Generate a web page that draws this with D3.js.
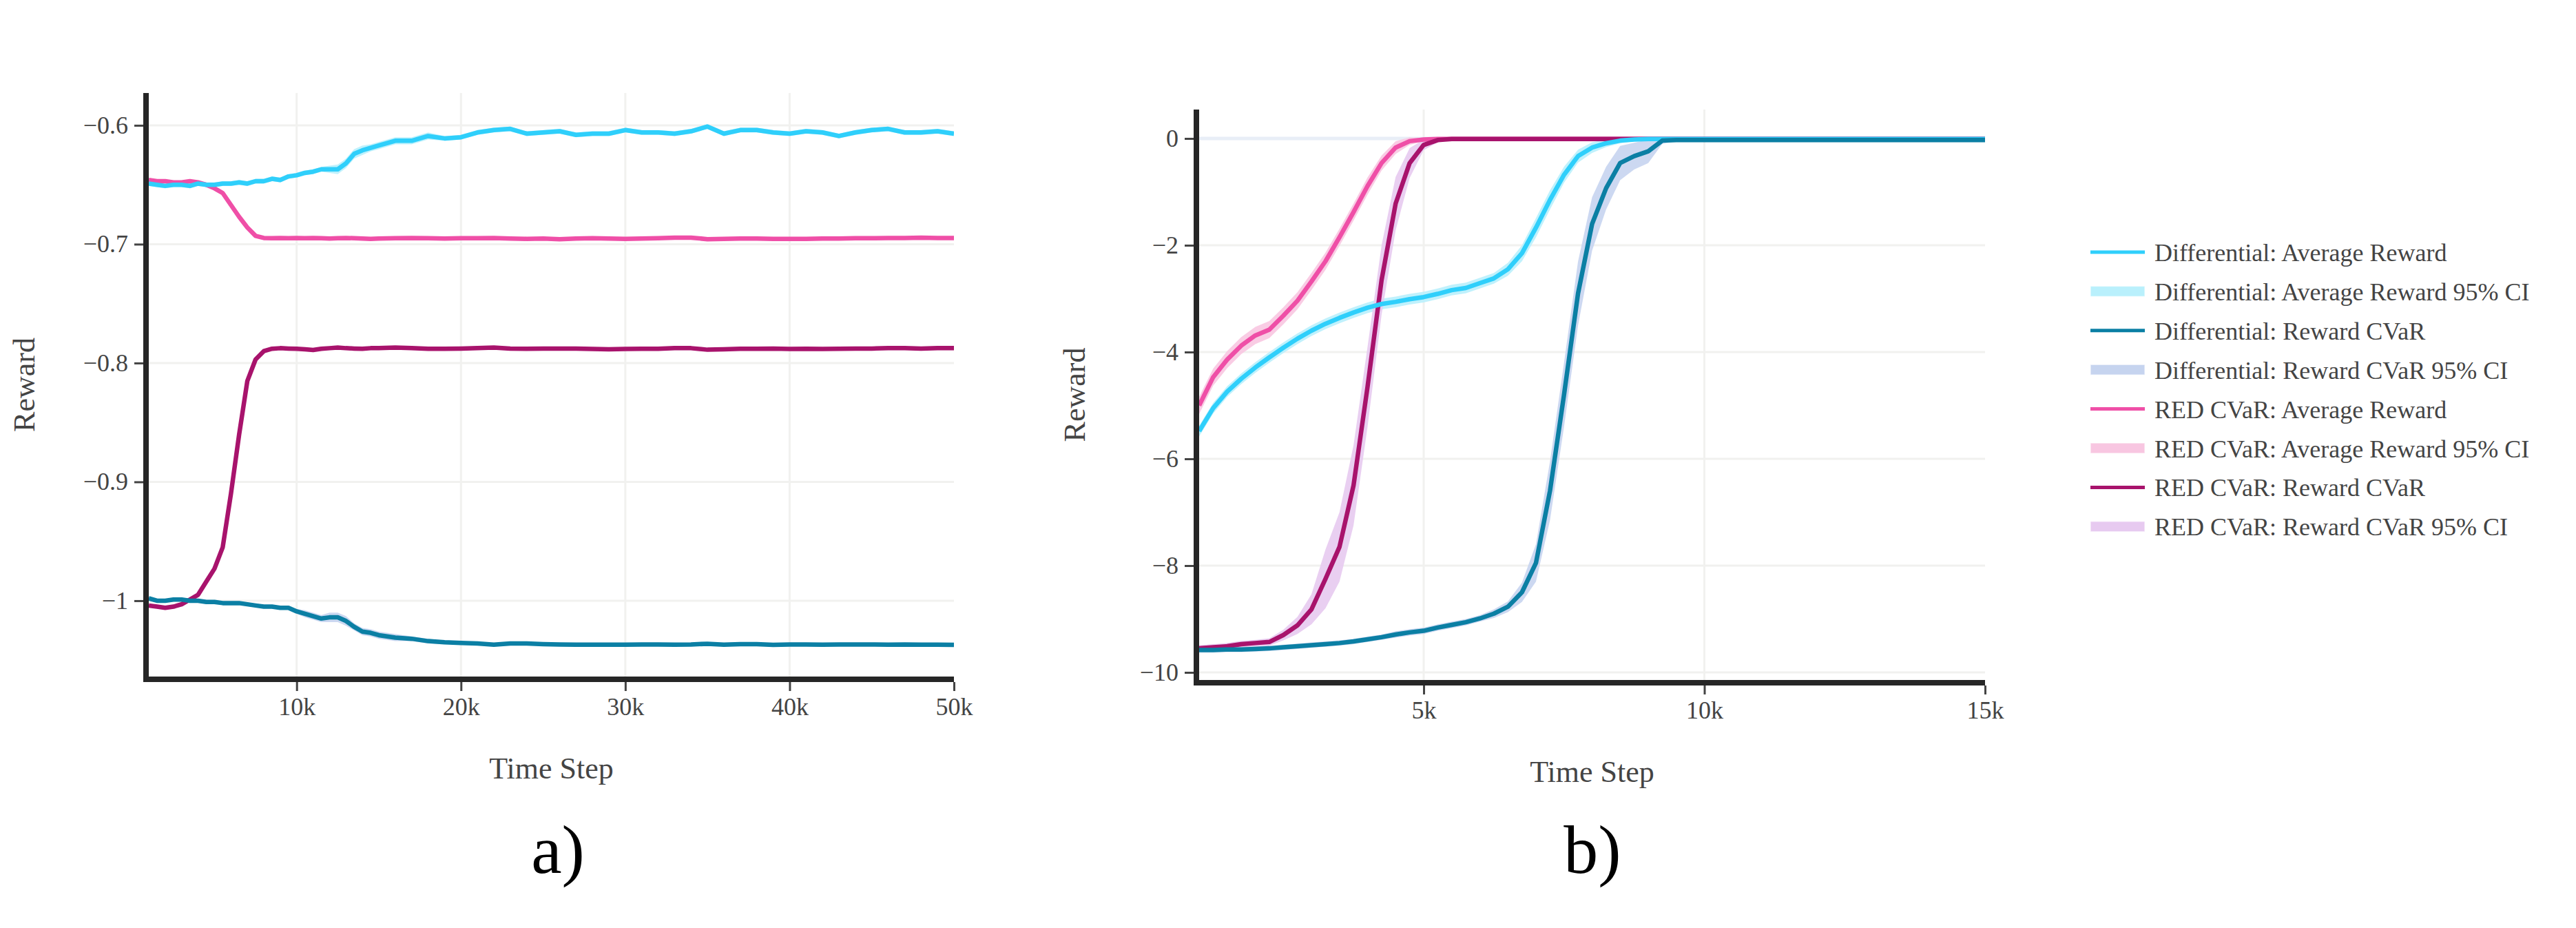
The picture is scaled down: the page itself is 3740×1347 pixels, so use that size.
<!DOCTYPE html>
<html>
<head>
<meta charset="utf-8">
<script src="https://cdn.jsdelivr.net/npm/d3@7"></script>
<style>
body { margin: 0; background: #fff; }
svg { display: block; }
</style>
</head>
<body>
<div id="chart"></div>
<script>

// ---- data ----
var legendLabels = [
  "Differential: Average Reward", "Differential: Average Reward 95% CI",
  "Differential: Reward CVaR", "Differential: Reward CVaR 95% CI",
  "RED CVaR: Average Reward", "RED CVaR: Average Reward 95% CI",
  "RED CVaR: Reward CVaR", "RED CVaR: Reward CVaR 95% CI"
];
var lineColors = ["#2fcffb", "#0b7fa4", "#ef4fa7", "#a8136c"];
var ciColors = ["#b9f0fc", "#c6d4ef", "#f8c6e1", "#e7caf0"];

// panel a) time steps
var xA = [1000,1500,2000,2500,3000,3500,4000,4500,5000,5500,6000,6500,7000,7500,8000,8500,9000,9500,10000,
  10500,11000,11500,12000,12500,13000,13500,14000,14500,15000,
  16000,17000,18000,19000,20000,21000,22000,23000,24000,25000,26000,27000,28000,29000,30000,
  31000,32000,33000,34000,35000,36000,37000,38000,39000,40000,41000,42000,43000,44000,45000,
  46000,47000,48000,49000,50000];

var diffAvgA = [-0.649,-0.650,-0.651,-0.650,-0.650,-0.651,-0.649,-0.650,-0.650,-0.649,
  -0.649,-0.648,-0.649,-0.647,-0.647,-0.645,-0.646,-0.643,-0.642,-0.640,
  -0.639,-0.637,-0.637,-0.637,-0.632,-0.624,-0.621,-0.619,-0.617,
  -0.613,-0.613,-0.609,-0.611,-0.610,-0.606,-0.604,-0.603,-0.607,-0.606,
  -0.605,-0.608,-0.607,-0.607,-0.604,-0.606,-0.606,-0.607,-0.605,-0.601,
  -0.607,-0.604,-0.604,-0.606,-0.607,-0.605,-0.606,-0.609,-0.606,-0.604,
  -0.603,-0.606,-0.606,-0.605,-0.607];
var diffAvgCiA = [0.002,0.002,0.002,0.002,0.002,0.002,0.002,0.002,0.002,0.002,
  0.002,0.002,0.002,0.002,0.002,0.002,0.002,0.002,0.002,0.002,
  0.002,0.002,0.003,0.004,0.004,0.004,0.004,0.003,0.003,
  0.003,0.003,0.003,0.002,0.002,0.002,0.002,0.002,0.002,0.002,
  0.002,0.002,0.002,0.002,0.002,0.002,0.002,0.002,0.002,0.002,
  0.002,0.002,0.002,0.002,0.002,0.002,0.002,0.002,0.002,0.002,
  0.002,0.002,0.002,0.002,0.002];

var diffCvarA = [-0.998,-1.000,-1.000,-0.999,-0.999,-1.000,-1.000,-1.001,-1.001,-1.002,
  -1.002,-1.002,-1.003,-1.004,-1.005,-1.005,-1.006,-1.006,-1.009,-1.011,
  -1.013,-1.015,-1.014,-1.014,-1.017,-1.022,-1.026,-1.027,-1.029,
  -1.031,-1.032,-1.034,-1.035,-1.0355,-1.036,-1.037,-1.036,-1.036,-1.0365,
  -1.0368,-1.037,-1.037,-1.037,-1.037,-1.0368,-1.0368,-1.037,-1.0368,-1.0362,
  -1.037,-1.0365,-1.0365,-1.0372,-1.0368,-1.0368,-1.037,-1.0368,-1.0368,-1.0368,
  -1.037,-1.0368,-1.037,-1.037,-1.0372];
var diffCvarCiA = [0.0015,0.0015,0.0015,0.0015,0.0015,0.0015,0.0015,0.0015,0.0015,0.0015,
  0.0015,0.0015,0.0015,0.0015,0.0015,0.0015,0.0015,0.0015,0.002,0.003,
  0.003,0.003,0.004,0.004,0.004,0.003,0.003,0.003,0.003,
  0.003,0.002,0.002,0.0015,0.001,0.001,0.001,0.001,0.001,0.001,
  0.001,0.001,0.001,0.001,0.001,0.001,0.001,0.001,0.001,0.001,
  0.001,0.001,0.001,0.001,0.001,0.001,0.001,0.001,0.001,0.001,
  0.001,0.001,0.001,0.001,0.001];

var redAvgA = [-0.646,-0.647,-0.647,-0.648,-0.648,-0.647,-0.648,-0.650,-0.653,-0.657,
  -0.667,-0.677,-0.686,-0.693,-0.6948,-0.695,-0.6948,-0.695,-0.6948,-0.695,
  -0.6948,-0.695,-0.6952,-0.695,-0.6948,-0.695,-0.6952,-0.6955,-0.6952,
  -0.695,-0.6948,-0.695,-0.6952,-0.695,-0.695,-0.6948,-0.6952,-0.6955,-0.6952,
  -0.6958,-0.6952,-0.695,-0.6952,-0.6955,-0.6952,-0.695,-0.6945,-0.6945,-0.6958,
  -0.6955,-0.6952,-0.6952,-0.6955,-0.6955,-0.6955,-0.6952,-0.6952,-0.695,-0.695,
  -0.6948,-0.6948,-0.6945,-0.6948,-0.6948];
var redAvgCiA = [0.0015,0.0015,0.0015,0.0015,0.0015,0.0015,0.0015,0.0015,0.002,0.002,
  0.002,0.002,0.002,0.0015,0.001,0.001,0.001,0.001,0.001,0.001,
  0.001,0.001,0.001,0.001,0.001,0.001,0.001,0.001,0.001,
  0.001,0.001,0.001,0.001,0.001,0.001,0.001,0.001,0.001,0.001,
  0.001,0.001,0.001,0.001,0.001,0.001,0.001,0.001,0.001,0.001,
  0.001,0.001,0.001,0.001,0.001,0.001,0.001,0.001,0.001,0.001,
  0.001,0.001,0.001,0.001,0.001];

var redCvarA = [-1.004,-1.005,-1.006,-1.005,-1.003,-0.999,-0.995,-0.984,-0.973,-0.955,
  -0.910,-0.860,-0.815,-0.797,-0.790,-0.788,-0.7875,-0.7878,-0.788,-0.7885,
  -0.789,-0.788,-0.7875,-0.787,-0.7875,-0.7878,-0.788,-0.7875,-0.7875,
  -0.787,-0.7875,-0.788,-0.788,-0.7878,-0.7875,-0.787,-0.7878,-0.788,-0.7878,
  -0.7878,-0.7878,-0.7882,-0.7885,-0.7882,-0.788,-0.788,-0.7875,-0.7875,-0.7888,
  -0.7885,-0.788,-0.788,-0.7878,-0.7882,-0.788,-0.7882,-0.788,-0.7878,-0.7878,
  -0.7875,-0.7875,-0.7878,-0.7875,-0.7875];
var redCvarCiA = [0.001,0.001,0.001,0.001,0.001,0.001,0.0015,0.002,0.003,0.003,
  0.003,0.003,0.003,0.002,0.0015,0.001,0.001,0.001,0.001,0.001,
  0.001,0.001,0.001,0.001,0.001,0.001,0.001,0.001,0.001,
  0.001,0.001,0.001,0.001,0.001,0.001,0.001,0.001,0.001,0.001,
  0.001,0.001,0.001,0.001,0.001,0.001,0.001,0.001,0.001,0.001,
  0.001,0.001,0.001,0.001,0.001,0.001,0.001,0.001,0.001,0.001,
  0.001,0.001,0.001,0.001,0.001];

// panel b) time steps
var xB = [1000,1250,1500,1750,2000,2250,2500,2750,3000,3250,3500,3750,4000,4250,4500,4750,
  5000,5250,5500,5750,6000,6250,6500,6750,7000,7250,7500,7750,8000,8250,8500,8750,
  9000,9250,9500,9750,10000,11000,12000,13000,14000,15000];

var diffAvgB = [-5.48,-5.05,-4.74,-4.50,-4.29,-4.10,-3.92,-3.75,-3.60,-3.47,
  -3.36,-3.26,-3.17,-3.10,-3.06,-3.01,-2.97,-2.91,-2.84,-2.80,
  -2.71,-2.62,-2.45,-2.15,-1.67,-1.15,-0.68,-0.33,-0.17,-0.09,
  -0.04,-0.02,-0.01,-0.01,-0.01,-0.01,-0.01,-0.01,-0.01,-0.01,-0.01,-0.01];
var diffAvgCiB = [0.10,0.10,0.10,0.10,0.10,0.10,0.10,0.10,0.10,0.10,
  0.10,0.10,0.10,0.10,0.10,0.10,0.10,0.10,0.10,0.10,
  0.10,0.10,0.12,0.15,0.18,0.18,0.15,0.12,0.10,0.07,
  0.05,0.03,0.02,0.02,0.02,0.02,0.02,0.02,0.02,0.02,0.02,0.02];

var diffCvarB = [-9.58,-9.58,-9.57,-9.57,-9.56,-9.55,-9.53,-9.51,-9.49,-9.47,
  -9.45,-9.42,-9.38,-9.34,-9.29,-9.25,-9.22,-9.16,-9.11,-9.06,
  -8.99,-8.90,-8.77,-8.50,-7.95,-6.60,-4.80,-2.90,-1.60,-0.93,
  -0.46,-0.33,-0.24,-0.04,-0.03,-0.03,-0.03,-0.03,-0.03,-0.03,-0.03,-0.03];
var diffCvarCiB = [0.05,0.05,0.05,0.05,0.05,0.05,0.05,0.05,0.05,0.05,
  0.05,0.05,0.05,0.05,0.06,0.06,0.06,0.06,0.06,0.06,
  0.06,0.08,0.10,0.18,0.35,0.55,0.60,0.60,0.50,0.40,
  0.32,0.25,0.22,0.06,0.02,0.02,0.02,0.02,0.02,0.02,0.02,0.02];

var redAvgB = [-5.00,-4.47,-4.14,-3.88,-3.69,-3.58,-3.32,-3.04,-2.68,-2.30,
  -1.85,-1.38,-0.89,-0.46,-0.17,-0.05,-0.02,-0.01,-0.01,-0.01,
  -0.01,-0.01,-0.01,-0.01,-0.01,-0.01,-0.01,-0.01,-0.01,-0.01,
  -0.01,-0.01,-0.01,-0.01,-0.01,-0.01,-0.01,-0.01,-0.01,-0.01,-0.01,-0.01];
var redAvgCiB = [0.16,0.16,0.16,0.16,0.16,0.16,0.16,0.16,0.16,0.16,
  0.16,0.16,0.16,0.14,0.12,0.07,0.03,0.01,0.01,0.01,
  0.01,0.01,0.01,0.01,0.01,0.01,0.01,0.01,0.01,0.01,
  0.01,0.01,0.01,0.01,0.01,0.01,0.01,0.01,0.01,0.01,0.01,0.01];

var redCvarB = [-9.55,-9.53,-9.51,-9.47,-9.45,-9.43,-9.30,-9.12,-8.82,-8.25,
  -7.65,-6.50,-4.65,-2.65,-1.22,-0.46,-0.12,-0.03,-0.01,-0.01,
  -0.01,-0.01,-0.01,-0.01,-0.01,-0.01,-0.01,-0.01,-0.01,-0.01,
  -0.01,-0.01,-0.01,-0.01,-0.01,-0.01,-0.01,-0.01,-0.01,-0.01,-0.01,-0.01];
var redCvarCiB = [0.06,0.06,0.06,0.06,0.06,0.07,0.10,0.16,0.28,0.55,
  0.65,0.75,0.75,0.65,0.50,0.28,0.10,0.04,0.02,0.02,
  0.01,0.01,0.01,0.01,0.01,0.01,0.01,0.01,0.01,0.01,
  0.01,0.01,0.01,0.01,0.01,0.01,0.01,0.01,0.01,0.01,0.01,0.01];

// tick values
var xTicksA = [10000, 20000, 30000, 40000, 50000];
var yTicksA = [-1, -0.9, -0.8, -0.7, -0.6];
var xTicksB = [5000, 10000, 15000];
var yTicksB = [-10, -8, -6, -4, -2, 0];

// ---- drawing ----
var width = 3740, height = 1347;
var font = "'Liberation Serif', 'Times New Roman', serif";
var textColor = "#444";

var svg = d3.select("#chart").append("svg")
  .attr("width", width)
  .attr("height", height);

svg.append("rect")
  .attr("width", width)
  .attr("height", height)
  .attr("fill", "white");

function drawPanel(p) {
  var x = d3.scaleLinear().domain(p.xDomain).range([p.left, p.right]);
  var y = d3.scaleLinear().domain(p.yDomain).range([p.bottom, p.top]);
  var g = svg.append("g");

  g.append("clipPath").attr("id", p.id + "clip")
    .append("rect")
    .attr("x", p.left).attr("y", p.top)
    .attr("width", p.right - p.left).attr("height", p.bottom - p.top);

  // grid
  g.selectAll(".hgrid")
    .data(p.yTicks.filter(function(d){ return d !== 0; }))
    .enter().append("line")
    .attr("x1", p.left).attr("x2", p.right)
    .attr("y1", function(d){ return y(d); })
    .attr("y2", function(d){ return y(d); })
    .attr("stroke", "#f1f1ef").attr("stroke-width", 3);
  g.selectAll(".vgrid")
    .data(p.xTicks.filter(function(d){ return d < p.xDomain[1]; }))
    .enter().append("line")
    .attr("y1", p.top).attr("y2", p.bottom)
    .attr("x1", function(d){ return x(d); })
    .attr("x2", function(d){ return x(d); })
    .attr("stroke", "#f1f1ef").attr("stroke-width", 3);
  if (p.yTicks.indexOf(0) >= 0) {
    g.append("line")
      .attr("x1", p.left).attr("x2", p.right)
      .attr("y1", y(0)).attr("y2", y(0))
      .attr("stroke", "#e8eef7").attr("stroke-width", 5);
  }

  var plot = g.append("g").attr("clip-path", "url(#" + p.id + "clip)");
  var xs = p.xs;

  // CI bands
  p.series.forEach(function(s, k) {
    var area = d3.area()
      .x(function(d, i){ return x(xs[i]); })
      .y0(function(d, i){ return y(d - s.ci[i]); })
      .y1(function(d, i){ return y(d + s.ci[i]); });
    plot.append("path")
      .datum(s.vals)
      .attr("d", area)
      .attr("fill", ciColors[s.c])
      .attr("opacity", 0.9);
  });

  // mean lines, RED first so Differential sits on top
  [2, 3, 0, 1].forEach(function(k) {
    var s = p.series[k];
    var line = d3.line()
      .x(function(d, i){ return x(xs[i]); })
      .y(function(d){ return y(d); });
    plot.append("path")
      .datum(s.vals)
      .attr("d", line)
      .attr("fill", "none")
      .attr("stroke", lineColors[s.c])
      .attr("stroke-width", 6.5)
      .attr("stroke-linejoin", "round");
  });

  // axes
  var gy = g.append("g")
    .attr("transform", "translate(" + (p.left - 8) + ",0)")
    .call(d3.axisLeft(y).tickValues(p.yTicks).tickFormat(d3.format(""))
      .tickSize(13).tickPadding(9).tickSizeOuter(0));
  var gx = g.append("g")
    .attr("transform", "translate(0," + (p.bottom + 8) + ")")
    .call(d3.axisBottom(x).tickValues(p.xTicks)
      .tickFormat(function(d){ return (d / 1000) + "k"; })
      .tickSize(13).tickPadding(9).tickSizeOuter(0));
  [gx, gy].forEach(function(ax) {
    ax.select(".domain").remove();
    ax.attr("font-family", font).attr("font-size", 36);
    ax.selectAll("line").attr("stroke", textColor).attr("stroke-width", 3);
    ax.selectAll("text").attr("fill", textColor);
  });

  g.append("line")
    .attr("x1", p.left - 4).attr("x2", p.left - 4)
    .attr("y1", p.top).attr("y2", p.bottom + 8)
    .attr("stroke", "#262626").attr("stroke-width", 8);
  g.append("line")
    .attr("x1", p.left - 8).attr("x2", p.right)
    .attr("y1", p.bottom + 4).attr("y2", p.bottom + 4)
    .attr("stroke", "#262626").attr("stroke-width", 8);

  // titles
  g.append("text")
    .attr("x", (p.left + p.right) / 2)
    .attr("y", p.bottom + 148)
    .attr("text-anchor", "middle")
    .attr("font-family", font).attr("font-size", 44)
    .attr("fill", textColor)
    .text("Time Step");
  g.append("text")
    .attr("transform", "translate(" + (p.left - 166) + "," + ((p.top + p.bottom) / 2) + ") rotate(-90)")
    .attr("text-anchor", "middle")
    .attr("font-family", font).attr("font-size", 44)
    .attr("fill", textColor)
    .text("Reward");
  g.append("text")
    .attr("x", p.labelX)
    .attr("y", 1267)
    .attr("text-anchor", "middle")
    .attr("font-family", font).attr("font-size", 100)
    .attr("fill", "black")
    .text(p.label);
}

drawPanel({
  id: "a", left: 216, right: 1385, top: 135, bottom: 982,
  xDomain: [1000, 50000], yDomain: [-1.0638, -0.5728],
  xTicks: xTicksA, yTicks: yTicksA, xs: xA,
  series: [
    {vals: diffAvgA, ci: diffAvgCiA, c: 0},
    {vals: diffCvarA, ci: diffCvarCiA, c: 1},
    {vals: redAvgA, ci: redAvgCiA, c: 2},
    {vals: redCvarA, ci: redCvarCiA, c: 3}
  ],
  label: "a)", labelX: 810
});

drawPanel({
  id: "b", left: 1741, right: 2882, top: 159, bottom: 987,
  xDomain: [1000, 15000], yDomain: [-10.142, 0.542],
  xTicks: xTicksB, yTicks: yTicksB, xs: xB,
  series: [
    {vals: diffAvgB, ci: diffAvgCiB, c: 0},
    {vals: diffCvarB, ci: diffCvarCiB, c: 1},
    {vals: redAvgB, ci: redAvgCiB, c: 2},
    {vals: redCvarB, ci: redCvarCiB, c: 3}
  ],
  label: "b)", labelX: 2312
});

// legend
var legend = svg.append("g").attr("transform", "translate(3035,366)");
var items = legend.selectAll("g")
  .data(legendLabels)
  .enter().append("g")
  .attr("transform", function(d, i){ return "translate(0," + (i * 56.9) + ")"; });

items.each(function(d, i) {
  var it = d3.select(this);
  var k = Math.floor(i / 2);
  if (i % 2 === 0) {
    it.append("line")
      .attr("x1", 0).attr("x2", 79)
      .attr("stroke", lineColors[k]).attr("stroke-width", 5);
  } else {
    it.append("rect")
      .attr("x", 0).attr("y", -7.5)
      .attr("width", 79).attr("height", 15)
      .attr("fill", ciColors[k])
      .attr("stroke", "white").attr("stroke-opacity", 0.6).attr("stroke-width", 1.5);
  }
  it.append("text")
    .attr("x", 93).attr("y", 13)
    .attr("font-family", font).attr("font-size", 36)
    .attr("fill", textColor)
    .text(d);
});

</script>
</body>
</html>
